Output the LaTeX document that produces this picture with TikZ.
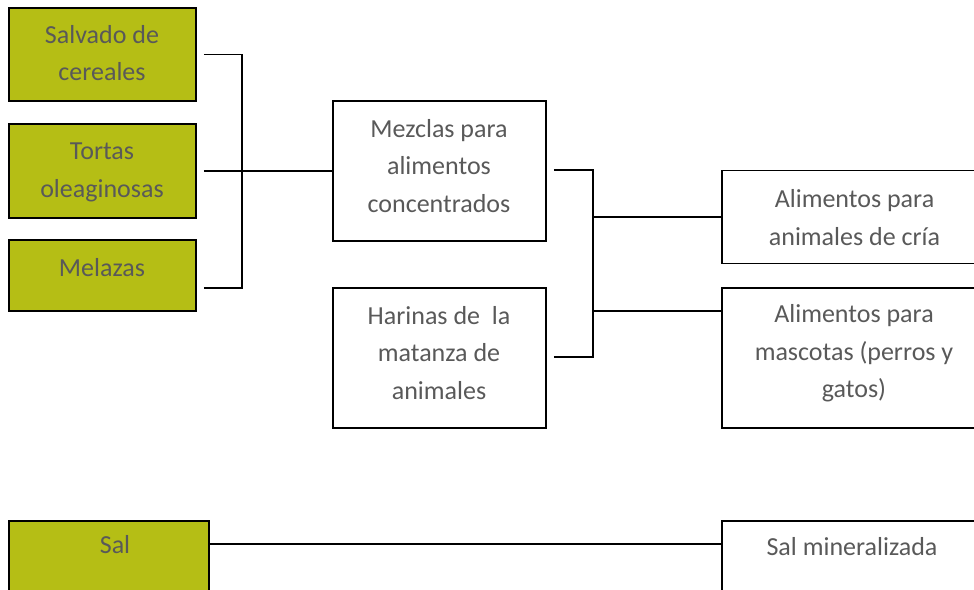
\documentclass[tikz,border=0pt]{standalone}
\usepackage{fontspec}
\setmainfont{Carlito}
\definecolor{grn}{RGB}{181,190,21}
\definecolor{txt}{RGB}{89,89,89}
\begin{document}
\begin{tikzpicture}[x=1pt,y=-1pt,
  box/.style={draw=black, line width=1.5pt, inner sep=0pt, minimum width=#1},
  gbox/.style={box=#1, fill=grn},
  lbl/.style={text=txt, align=center, inner sep=0pt, font=\fontsize{26}{37.5}\selectfont},
  conn/.style={draw=black, line width=1.5pt}]
\useasboundingbox (0,0) rectangle (974,589);
\clip (0,0) rectangle (974,589);
% boxes
\node[gbox=187pt, minimum height=93pt] (s1) at (102.5,54.5) {};
\node[gbox=187pt, minimum height=94pt] (s2) at (102.5,171) {};
\node[gbox=187pt, minimum height=71pt] (s3) at (102.5,275.5) {};
\node[box=213pt, minimum height=140pt] (mz) at (439.5,171) {};
\node[box=213pt, minimum height=140pt] (hr) at (439.5,358) {};
\node[box=270pt, minimum height=93pt] (ac) at (857,217) {};
\node[box=270pt, minimum height=140pt] (am) at (857,358) {};
\node[gbox=200pt, minimum height=89pt] (sal) at (109,565.5) {};
\node[box=270pt, minimum height=89pt] (sm) at (857,565.5) {};
% texts
\node[lbl] (t1) at (102,53) {Salvado de\\cereales};
\node[lbl] (t2) at (102,172.5) {Tortas\\oleaginosas};
\node[lbl] (t3) at (102,268) {Melazas};
\node[lbl] (t4) at (439,166) {Mezclas para\\alimentos\\concentrados};
\node[lbl] (t5) at (439,353) {Harinas de\ \ la\\matanza de\\animales};
\node[lbl] (t6) at (854.5,217.5) {Alimentos para\\animales de cría};
\node[lbl] (t7) at (854,353.5) {Alimentos para\\mascotas (perros y\\gatos)};
\node[lbl] (t8) at (115,545) {Sal};
\node[lbl] (t9) at (852,547) {Sal mineralizada};
% connectors
\coordinate (b1) at (242,171);
\coordinate (b2) at (593,264);
\draw[conn] ([xshift=7pt]s1.east) -| (b1);
\draw[conn] ([xshift=7pt,yshift=-12.5pt]s3.east) -| (b1);
\draw[conn] ([xshift=7pt]s2.east) -- (mz.west);
\draw[conn] ([xshift=7pt,yshift=1pt]mz.east) -| (b2);
\draw[conn] ([xshift=7pt,yshift=1pt]hr.east) -| (b2);
\draw[conn] (b2 |- ac.west) -- (ac.west);
\coordinate (m2) at ([yshift=47pt]am.west);
\draw[conn] (b2 |- m2) -- (m2);
\draw[conn] ([yshift=21.5pt]sal.east) -- ([yshift=21.5pt]sm.west);
\end{tikzpicture}
\end{document}
